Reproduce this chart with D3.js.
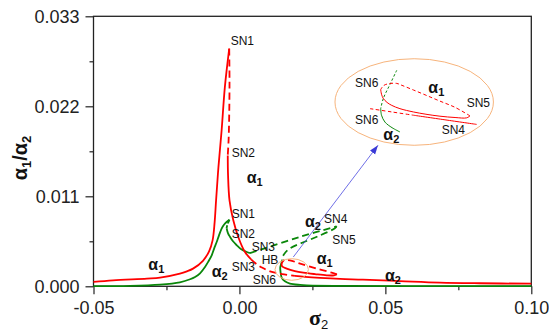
<!DOCTYPE html>
<html><head><meta charset="utf-8">
<script src="https://cdn.jsdelivr.net/npm/d3@7"></script>
<style>
html,body{margin:0;padding:0;background:#fff;}
svg{display:block;font-family:"Liberation Sans",Arial,sans-serif;}
</style></head><body>
<svg id="chart" width="549" height="334"></svg>
<script>
// ---- axis ticks ----
const xTicks = [-0.05, 0.00, 0.05, 0.10];
const xTickLabels = ["-0.05", "0.00", "0.05", "0.10"];
const xMinorTicks = [-0.025, 0.025, 0.075];
const yTicks = [0.000, 0.011, 0.022, 0.033];
const yTickLabels = ["0.000", "0.011", "0.022", "0.033"];
const yMinorTicks = [0.0055, 0.0165, 0.0275];

// ---- a1 response branches [sigma2, amplitude] ----
const a1StableLeft = [[-0.0500,0.00053],[-0.0433,0.00073],[-0.0317,0.00094],[-0.0272,0.00106],[-0.0204,0.00155],[-0.0180,0.00183],[-0.0159,0.00216],[-0.0125,0.00312],[-0.0104,0.00428],[-0.0092,0.00562],[-0.0085,0.00782],[-0.0080,0.01051],[-0.0072,0.01454],[-0.0061,0.01907],[-0.0050,0.02432],[-0.0035,0.02905]];
const a1UnstableSN1SN2 = [[-0.0035,0.02905],[-0.0034,0.0250],[-0.0035,0.0210],[-0.0037,0.0180],[-0.0040,0.0160]];
const a1StableSN2SN3 = [[-0.0040,0.0160],[-0.0039,0.01357],[-0.0034,0.01051],[-0.0021,0.00807],[-0.0004,0.00603],[0.0019,0.00419],[0.0040,0.0033]];
const a1UnstableLower = [[0.0040,0.0033],[0.0057,0.00275],[0.0077,0.00229],[0.0105,0.00183],[0.0146,0.0015],[0.0190,0.00128]];
const a1StableRight = [[0.0190,0.00128],[0.0225,0.00116],[0.0276,0.00103],[0.0345,0.0009],[0.0423,0.00082],[0.0550,0.00064],[0.0687,0.00045],[0.0824,0.00037],[0.1000,0.00032]];
const a1LoopStable = [[0.0153,0.00324],[0.0145,0.00281],[0.0146,0.00244],[0.0162,0.00216],[0.0190,0.00186],[0.0219,0.00167],[0.0259,0.00149],[0.0299,0.00134],[0.0324,0.00134],[0.0334,0.00147]];
const a1LoopUnstable = [[0.0334,0.00147],[0.0316,0.00167],[0.0265,0.00216],[0.0208,0.00277],[0.0173,0.00318],[0.0153,0.00324]];

// ---- a2 response branches ----
const a2StableLeft = [[-0.0500,0.00002],[-0.0375,0.00006],[-0.0272,0.00021],[-0.0204,0.00049],[-0.0169,0.00086],[-0.0152,0.00114],[-0.0135,0.00159],[-0.0118,0.00236],[-0.0106,0.00306],[-0.0095,0.00379],[-0.0087,0.00458],[-0.0078,0.00541],[-0.0070,0.00623],[-0.0061,0.00705],[-0.0053,0.00752],[-0.0044,0.00786],[-0.0034,0.00813]];
const a2UnstableSN1SN2 = [[-0.0034,0.00813],[-0.0041,0.00758],[-0.0044,0.00710]];
const a2StableSN2SN3 = [[-0.0044,0.00710],[-0.0039,0.00648],[-0.0032,0.00603],[-0.0022,0.00550],[-0.0009,0.00501],[0.0005,0.00455],[0.0025,0.00419],[0.0036,0.00406]];
const a2UnstableSN3SN4 = [[0.0036,0.00406],[0.0081,0.00458],[0.0208,0.00605],[0.0333,0.00733]];
const a2UnstableSN4HB = [[0.0333,0.00733],[0.0327,0.00709],[0.0269,0.00611],[0.0208,0.00522],[0.0173,0.00464],[0.0158,0.00416],[0.0149,0.00367],[0.0146,0.00306]];
const a2StableRight = [[0.0146,0.00306],[0.0140,0.00236],[0.0141,0.00171],[0.0145,0.00104],[0.0156,0.00061],[0.0173,0.00033],[0.0208,0.00017],[0.0231,0.00012],[0.0379,0.00005],[0.0721,0.00002],[0.1000,0.00002]];

// ---- magnified neighbourhood of the Hopf point ----
const zoomA2Unstable = [[0.01665,0.00302],[0.01616,0.00259],[0.01568,0.00216],[0.01549,0.00185]];
const zoomA2Stable = [[0.01549,0.00185],[0.01555,0.00165],[0.01580,0.00144],[0.01631,0.00127],[0.01688,0.00114]];
const zoomA1LoopStable = [[0.01549,0.00243],[0.01555,0.00229],[0.01568,0.00216],[0.01595,0.00204],[0.01629,0.00195],[0.01688,0.00185],[0.01785,0.00175],[0.01876,0.00168],[0.01977,0.00162],[0.02086,0.00158],[0.02170,0.00157],[0.02194,0.00163]];
const zoomA1LoopUnstable = [[0.02194,0.00163],[0.02086,0.00189],[0.01977,0.00208],[0.01876,0.00226],[0.01785,0.00242],[0.01703,0.00256],[0.01665,0.00262],[0.01604,0.00261],[0.01569,0.00255],[0.01549,0.00243]];
const zoomA1LowerUnstable = [[0.01472,0.00185],[0.01629,0.00175],[0.01785,0.00165]];
const zoomA1LowerStable = [[0.01785,0.00165],[0.02013,0.00151],[0.02242,0.00137]];

// zoom window (in data units) and where it is shown (in data units of the main axes)
const zoomWindow = {s: 0.01791, a: 0.002053, rs: 0.00572, ra: 0.00132};
const zoomFrame = {s: 0.05988, a: 0.022525, rs: 0.02714, ra: 0.00529};
const zoomArrow = [[0.01846, 0.00358], [0.04748, 0.01723]];

// ---- annotations ----
const mainNotes = [
  {t:"SN1", s:-0.00299, a:0.02946}, {t:"SN2", s:-0.00265, a:0.01580},
  {t:"SN1", s:-0.00265, a:0.00831}, {t:"SN2", s:-0.00265, a:0.00587},
  {t:"SN3", s:0.00420, a:0.00428}, {t:"SN3", s:-0.00265, a:0.00183},
  {t:"HB", s:0.00763, a:0.00277}, {t:"SN6", s:0.00455, a:0.00033},
  {t:"SN4", s:0.02900, a:0.00779}, {t:"SN5", s:0.03182, a:0.00522}
];
const mainAlphaNotes = [
  {sub:"1", s:0.00249, a:0.01259}, {sub:"1", s:-0.03122, a:0.00196},
  {sub:"2", s:-0.00950, a:0.00110}, {sub:"2", s:0.02246, a:0.00721},
  {sub:"1", s:0.02647, a:0.00269}, {sub:"2", s:0.04987, a:0.00061}
];
const zoomNotes = [
  {t:"SN6", s:0.013634, a:0.00251}, {t:"SN6", s:0.013634, a:0.001395},
  {t:"SN5", s:0.021701, a:0.001901}, {t:"SN4", s:0.019896, a:0.00109}
];
const zoomAlphaNotes = [
  {sub:"1", s:0.018928, a:0.002318}, {sub:"2", s:0.015678, a:0.000885}
];

const RED = "#ff0000", GREEN = "#0a870a";
const svg = d3.select("#chart");

const x = d3.scaleLinear().domain([-0.05, 0.10]).range([93.5, 531.3]);
const y = d3.scaleLinear().domain([0, 0.033]).range([286.3, 16.3]);

// scales of the magnified view, placed inside the big ellipse
const zx = d3.scaleLinear()
  .domain([zoomWindow.s - zoomWindow.rs, zoomWindow.s + zoomWindow.rs])
  .range([x(zoomFrame.s - zoomFrame.rs), x(zoomFrame.s + zoomFrame.rs)]);
const zy = d3.scaleLinear()
  .domain([zoomWindow.a - zoomWindow.ra, zoomWindow.a + zoomWindow.ra])
  .range([y(zoomFrame.a - zoomFrame.ra), y(zoomFrame.a + zoomFrame.ra)]);

// ---- axes ----
function styleAxis(g) {
  g.select(".domain").remove();
  g.selectAll("line").attr("stroke", "#222").attr("stroke-width", 1.2);
  g.selectAll("text").attr("font-size", 18).attr("fill", "#222")
    .attr("font-family", "'Liberation Sans', Arial, sans-serif");
}
svg.append("g").attr("transform", `translate(0,${y(0)})`)
  .call(d3.axisBottom(x).tickValues(xTicks).tickFormat((d, i) => xTickLabels[i])
    .tickSizeInner(8).tickSizeOuter(0).tickPadding(7)).call(styleAxis);
svg.append("g").attr("transform", `translate(0,${y(0)})`)
  .call(d3.axisBottom(x).tickValues(xMinorTicks).tickFormat("").tickSizeInner(4).tickSizeOuter(0)).call(styleAxis);
svg.append("g").attr("transform", `translate(${x(-0.05)},0)`)
  .call(d3.axisLeft(y).tickValues(yTicks).tickFormat((d, i) => yTickLabels[i])
    .tickSizeInner(8).tickSizeOuter(0).tickPadding(6)).call(styleAxis);
svg.append("g").attr("transform", `translate(${x(-0.05)},0)`)
  .call(d3.axisLeft(y).tickValues(yMinorTicks).tickFormat("").tickSizeInner(4).tickSizeOuter(0)).call(styleAxis);

svg.append("rect")
  .attr("x", x(-0.05)).attr("y", y(0.033))
  .attr("width", x(0.10) - x(-0.05)).attr("height", y(0) - y(0.033))
  .attr("fill", "none").attr("stroke", "#222").attr("stroke-width", 1.3);

// ---- axis titles ----
const yTitle = svg.append("text")
  .attr("transform", `translate(27,158) rotate(-90)`)
  .attr("text-anchor", "middle").attr("font-weight", "bold").attr("font-size", 20).attr("fill", "#111");
yTitle.append("tspan").text("α");
yTitle.append("tspan").attr("font-size", 13).attr("dy", 4).text("1");
yTitle.append("tspan").attr("dy", -4).text("/α");
yTitle.append("tspan").attr("font-size", 13).attr("dy", 4).text("2");

const xTitle = svg.append("text").attr("x", 309).attr("y", 325).attr("fill", "#111");
xTitle.append("tspan").attr("font-family", "'Liberation Serif', 'Times New Roman', serif")
  .attr("font-weight", "bold").attr("font-size", 22).text("σ");
xTitle.append("tspan").attr("font-size", 13).attr("dy", 4).text("2");

// ---- response curves ----
const line = d3.line().x(d => x(d[0])).y(d => y(d[1])).curve(d3.curveCatmullRom.alpha(0.5));
const zline = d3.line().x(d => zx(d[0])).y(d => zy(d[1])).curve(d3.curveCatmullRom.alpha(0.5));

function draw(path, data, color, dashed, width, gen) {
  svg.append("path").datum(data).attr("d", gen || line)
    .attr("fill", "none").attr("stroke", color).attr("stroke-width", width)
    .attr("stroke-dasharray", dashed ? dashed : null)
    .attr("stroke-linejoin", "round");
}
const DASH = "7,4";
draw(null, a2StableLeft, GREEN, null, 1.8);
draw(null, a2UnstableSN1SN2, GREEN, "4,2", 1.8);
draw(null, a2StableSN2SN3, GREEN, null, 1.8);
draw(null, a2UnstableSN3SN4, GREEN, DASH, 1.8);
draw(null, a2UnstableSN4HB, GREEN, DASH, 1.8);
draw(null, a2StableRight, GREEN, null, 1.8);

draw(null, a1StableLeft, RED, null, 1.8);
draw(null, a1UnstableSN1SN2, RED, DASH, 1.8);
draw(null, a1StableSN2SN3, RED, null, 1.8);
draw(null, a1UnstableLower, RED, DASH, 1.8);
draw(null, a1StableRight, RED, null, 1.8);
draw(null, a1LoopStable, RED, null, 1.8);
draw(null, a1LoopUnstable, RED, DASH, 1.8);

// ---- zoom marker, arrow and magnified view ----
const ORANGE = "#f7b47c";
svg.append("ellipse")
  .attr("cx", x(zoomWindow.s)).attr("cy", y(zoomWindow.a))
  .attr("rx", x(zoomWindow.s + zoomWindow.rs) - x(zoomWindow.s))
  .attr("ry", y(zoomWindow.a) - y(zoomWindow.a + zoomWindow.ra))
  .attr("fill", "none").attr("stroke", ORANGE).attr("stroke-width", 1);
svg.append("ellipse")
  .attr("cx", x(zoomFrame.s)).attr("cy", y(zoomFrame.a))
  .attr("rx", x(zoomFrame.s + zoomFrame.rs) - x(zoomFrame.s))
  .attr("ry", y(zoomFrame.a) - y(zoomFrame.a + zoomFrame.ra))
  .attr("fill", "none").attr("stroke", ORANGE).attr("stroke-width", 1);

svg.append("defs").append("marker")
  .attr("id", "head").attr("markerUnits", "userSpaceOnUse")
  .attr("viewBox", "0 0 10 10").attr("refX", 10).attr("refY", 5)
  .attr("markerWidth", 9).attr("markerHeight", 9).attr("orient", "auto")
  .append("path").attr("d", "M0,1.5 L10,5 L0,8.5 Z").attr("fill", "#3a3ad6");
svg.append("path").datum(zoomArrow)
  .attr("d", d3.line().x(d => x(d[0])).y(d => y(d[1])))
  .attr("stroke", "#4a4ae0").attr("stroke-width", 0.8).attr("fill", "none")
  .attr("marker-end", "url(#head)");

draw(null, zoomA2Unstable, GREEN, "2.5,2", 1, zline);
draw(null, zoomA2Stable, GREEN, null, 1, zline);
draw(null, zoomA1LoopStable, RED, null, 1, zline);
draw(null, zoomA1LoopUnstable, RED, "3.5,2.5", 1, zline);
draw(null, zoomA1LowerUnstable, RED, "3.5,2.5", 1, zline);
draw(null, zoomA1LowerStable, RED, null, 1, zline);

// ---- labels ----
function notes(list, sx, sy) {
  svg.append("g").selectAll("text").data(list).join("text")
    .attr("x", d => sx(d.s)).attr("y", d => sy(d.a))
    .attr("font-size", 12).attr("fill", "#111").text(d => d.t);
}
function alphaNotes(list, sx, sy) {
  const t = svg.append("g").selectAll("text").data(list).join("text")
    .attr("x", d => sx(d.s)).attr("y", d => sy(d.a))
    .attr("font-weight", "bold").attr("font-size", 16).attr("fill", "#111");
  t.append("tspan").text("α");
  t.append("tspan").attr("font-size", 11).attr("dy", 3).text(d => d.sub);
}
notes(mainNotes, x, y);
alphaNotes(mainAlphaNotes, x, y);
notes(zoomNotes, zx, zy);
alphaNotes(zoomAlphaNotes, zx, zy);
</script></body></html>
